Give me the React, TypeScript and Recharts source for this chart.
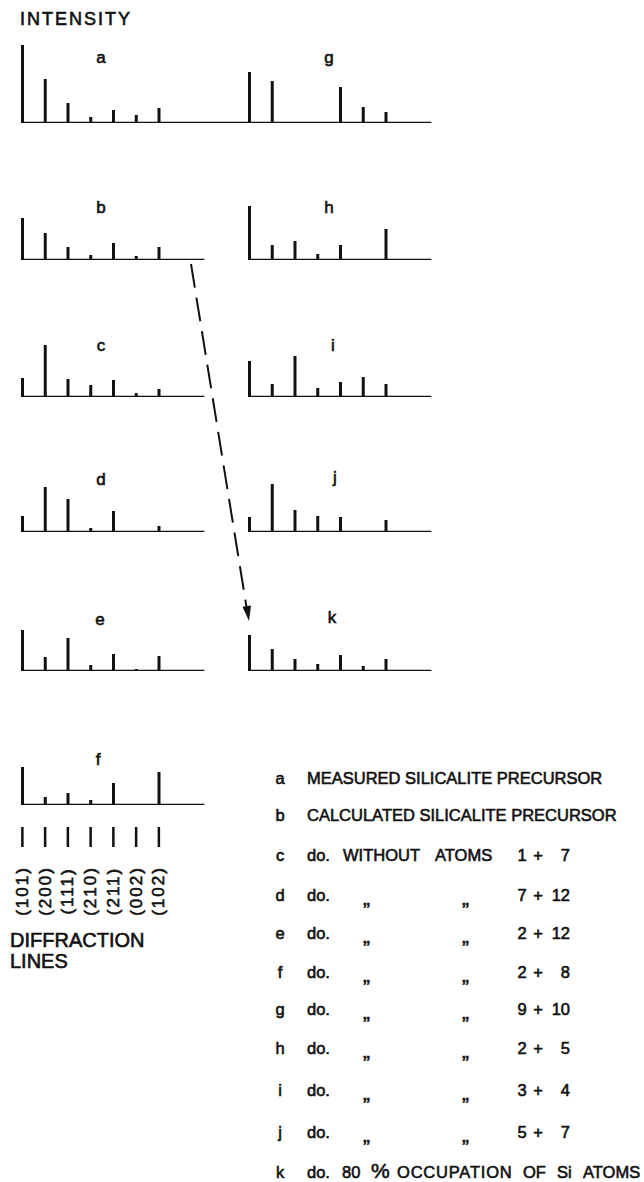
import React from 'react';
import { ComposedChart, Bar, Line, XAxis, YAxis } from 'recharts';

// Stick diagrams of X-ray line intensities, one small panel per structure model,
// plus the legend listing which atoms were left out of each calculation.

const REFLECTIONS = ['(101)', '(200)', '(111)', '(210)', '(211)', '(002)', '(102)'];

// intensities per reflection, same order as REFLECTIONS
const measured_a = [78, 44, 20, 6, 13, 8, 15];
const calc_b = [42, 27, 13, 5, 17, 4, 13];
const calc_c = [19, 52, 18, 12, 17, 4, 8];
const calc_d = [16, 45, 33, 4, 21, 0, 6];
const calc_e = [41, 14, 33, 6, 17, 2, 15];
const calc_f = [38, 8, 12, 5, 22, 0, 33];
const calc_g = [51, 42, 0, 0, 36, 16, 11];
const calc_h = [54, 15, 19, 6, 15, 0, 31];
const calc_i = [36, 13, 41, 9, 15, 20, 13];
const calc_j = [15, 48, 22, 16, 15, 0, 12];
const calc_k = [36, 22, 12, 7, 16, 5, 12];

// atom pairs removed in models c..j
const REMOVED = [
  ['c', '1', '7'],
  ['d', '7', '12'],
  ['e', '2', '12'],
  ['f', '2', '8'],
  ['g', '9', '10'],
  ['h', '2', '5'],
  ['i', '3', '4'],
  ['j', '5', '7'],
];

const INK = '#111';
const FONT = '"Liberation Sans", Arial, sans-serif';
const BAND = 22.75;
const LEFT_X = 22;
const RIGHT_X = 249;

// lettering is a bit heavier than the regular face, so give glyphs a thin outline
const txt = { fontFamily: FONT, fill: INK, stroke: INK, strokeWidth: 0.6 } as const;

function LineTick(props: any) {
  const { x, y, payload } = props;
  if (!REFLECTIONS.includes(payload.value)) return <g />;
  return (
    <g>
      <line x1={x} x2={x} y1={y + 22} y2={y + 42} stroke={INK} strokeWidth={2.5} />
      <text
        {...txt}
        transform={`translate(${x},${y + 86}) rotate(-90)`}
        textAnchor="middle"
        dominantBaseline="central"
        fontSize={17}
        letterSpacing={2}
      >
        {payload.value}
      </text>
    </g>
  );
}

type PanelProps = {
  values: number[];
  x0: number;
  base: number;
  span?: number;
  plotH?: number;
  withLines?: boolean;
};

function Panel({ values, x0, base, span = 9, plotH = 60, withLines = false }: PanelProps) {
  const data = Array.from({ length: span }, (_, i) => ({
    name: i < REFLECTIONS.length ? REFLECTIONS[i] : `blank${i}`,
    value: i < values.length ? values[i] : 0,
    base: 0,
  }));
  const axisH = withLines ? 120 : 0;
  const mTop = 2;
  const mBottom = withLines ? 0 : 3;
  return (
    <div style={{ position: 'absolute', left: x0 - BAND / 2, top: base - plotH - mTop }}>
      <ComposedChart
        width={span * BAND}
        height={mTop + plotH + axisH + mBottom}
        data={data}
        margin={{ top: mTop, right: 0, bottom: mBottom, left: 0 }}
      >
        <XAxis
          dataKey="name"
          hide={!withLines}
          height={axisH || 1}
          axisLine={false}
          tickLine={false}
          tickSize={0}
          tickMargin={0}
          interval={0}
          tick={<LineTick />}
        />
        <YAxis hide domain={[0, plotH]} allowDataOverflow />
        <Bar dataKey="value" barSize={3} fill={INK} isAnimationActive={false} />
        <Line dataKey="base" stroke={INK} strokeWidth={2.5} dot={false} isAnimationActive={false} />
      </ComposedChart>
    </div>
  );
}

function Legend() {
  const rowBase = [784, 821, 861, 901, 939, 978, 1015, 1054, 1096, 1138, 1178];
  const keys = ['a', 'b', 'c', 'd', 'e', 'f', 'g', 'h', 'i', 'j', 'k'];
  return (
    <g {...txt} fontSize={16.5}>
      {keys.map((k, i) => (
        <text key={k} x={280} y={rowBase[i]} textAnchor="middle">{k}</text>
      ))}
      <text x={307} y={rowBase[0]}>MEASURED SILICALITE PRECURSOR</text>
      <text x={307} y={rowBase[1]}>CALCULATED SILICALITE PRECURSOR</text>
      {REMOVED.map(([k, n1, n2], i) => {
        const y = rowBase[i + 2];
        return (
          <g key={k}>
            <text x={307} y={y}>do.</text>
            {i === 0 ? (
              <>
                <text x={343} y={y}>WITHOUT</text>
                <text x={435} y={y}>ATOMS</text>
              </>
            ) : (
              <>
                <text x={363} y={y + 4} fontSize={21}>„</text>
                <text x={462} y={y + 4} fontSize={21}>„</text>
              </>
            )}
            <text x={522} y={y} textAnchor="middle">{n1}</text>
            <text x={538} y={y} textAnchor="middle">+</text>
            <text x={570} y={y} textAnchor="end">{n2}</text>
          </g>
        );
      })}
      <text x={307} y={rowBase[10]}>do.</text>
      <text x={342} y={rowBase[10]}>80</text>
      <text x={371} y={rowBase[10]} fontSize={21}>%</text>
      <text x={397} y={rowBase[10]} letterSpacing={0.8}>OCCUPATION</text>
      <text x={523} y={rowBase[10]}>OF</text>
      <text x={557} y={rowBase[10]}>Si</text>
      <text x={583} y={rowBase[10]}>ATOMS</text>
    </g>
  );
}

export default function App() {
  return (
    <div
      style={{
        position: 'absolute',
        left: 0,
        top: 0,
        width: 644,
        height: 1182,
        background: '#fff',
        overflow: 'hidden',
        fontFamily: FONT,
      }}
    >
      <Panel values={measured_a} x0={LEFT_X} base={123} span={11} plotH={82} />
      <Panel values={calc_g} x0={RIGHT_X} base={123} plotH={82} />
      <Panel values={calc_b} x0={LEFT_X} base={260} />
      <Panel values={calc_h} x0={RIGHT_X} base={260} />
      <Panel values={calc_c} x0={LEFT_X} base={397} />
      <Panel values={calc_i} x0={RIGHT_X} base={397} />
      <Panel values={calc_d} x0={LEFT_X} base={532} />
      <Panel values={calc_j} x0={RIGHT_X} base={532} />
      <Panel values={calc_e} x0={LEFT_X} base={671} />
      <Panel values={calc_k} x0={RIGHT_X} base={671} />
      <Panel values={calc_f} x0={LEFT_X} base={805} withLines />

      <svg
        width={644}
        height={1182}
        style={{ position: 'absolute', left: 0, top: 0, pointerEvents: 'none' }}
      >
        <text {...txt} x={20} y={25} fontSize={18} letterSpacing={2}>INTENSITY</text>

        <g {...txt} fontSize={17} textAnchor="middle">
          <text x={101} y={63}>a</text>
          <text x={329} y={63}>g</text>
          <text x={101} y={213}>b</text>
          <text x={329} y={213}>h</text>
          <text x={101} y={351}>c</text>
          <text x={333} y={351}>i</text>
          <text x={101} y={485}>d</text>
          <text x={335} y={483}>j</text>
          <text x={100} y={625}>e</text>
          <text x={332} y={623}>k</text>
          <text x={98} y={765}>f</text>
        </g>

        {/* dashed arrow from model b to model k */}
        <line x1={191} y1={264} x2={246.5} y2={607} stroke={INK} strokeWidth={2} strokeDasharray="24 10" />
        <polygon points="249,621 251,605.5 242.5,606.8" fill={INK} />

        <text {...txt} x={10} y={947} fontSize={20}>DIFFRACTION</text>
        <text {...txt} x={10} y={968} fontSize={20}>LINES</text>

        <Legend />
      </svg>
    </div>
  );
}
